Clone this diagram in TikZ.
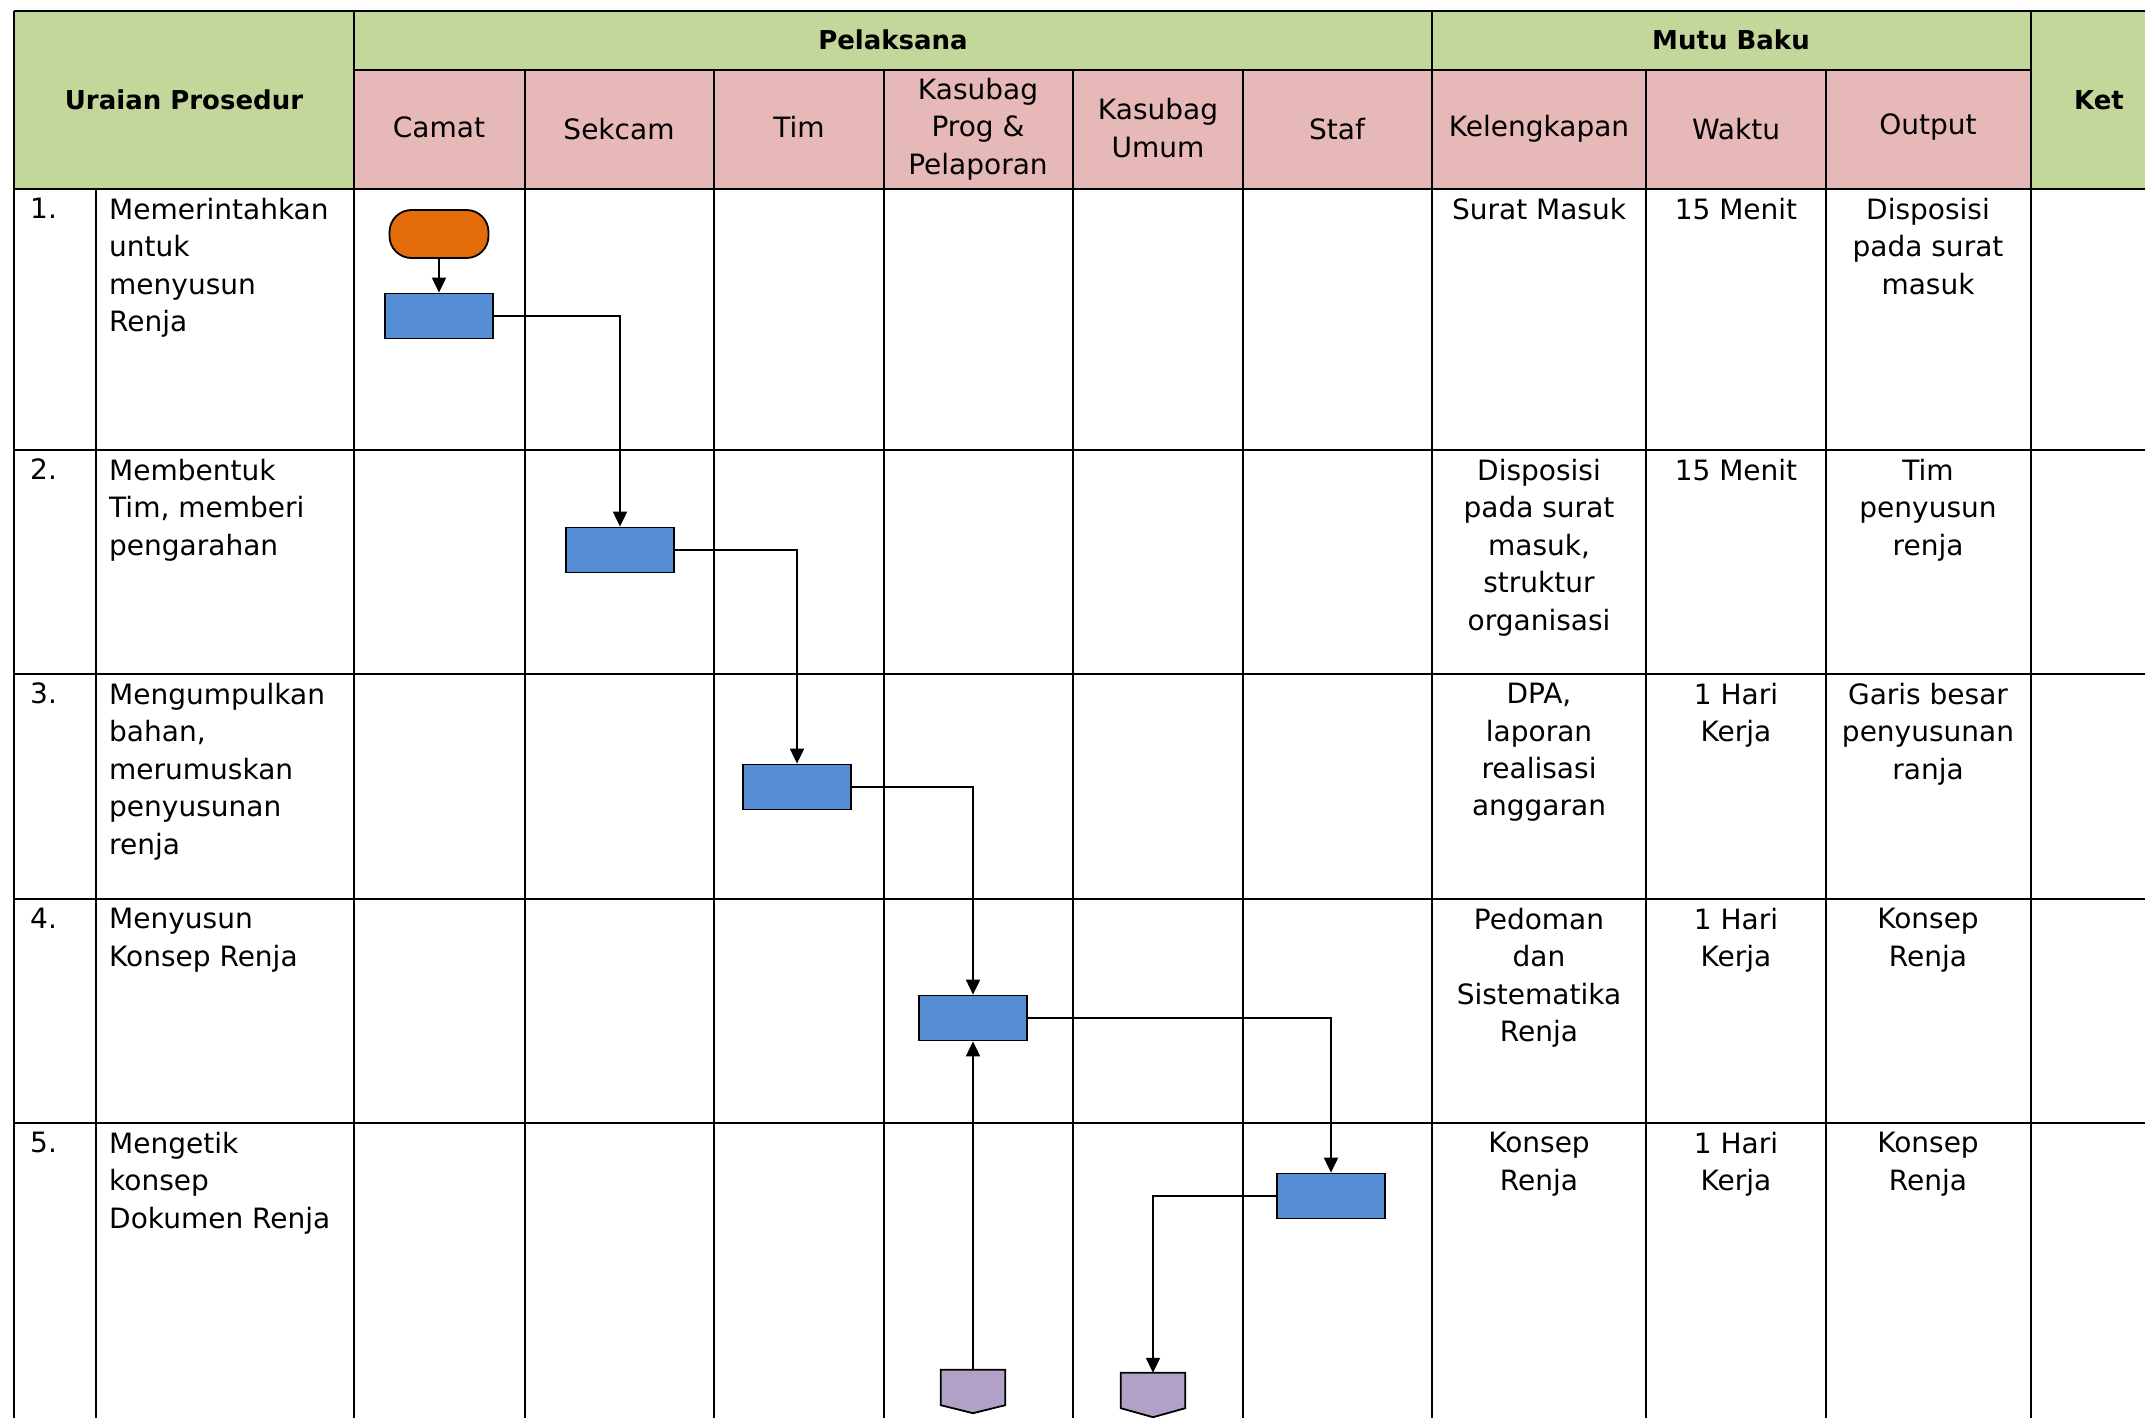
\documentclass[tikz,border=0pt]{standalone}
\usepackage{fontspec}
\setmainfont{DejaVu Sans}
\usetikzlibrary{calc,arrows.meta}
\definecolor{hdrgreen}{RGB}{196,215,155}
\definecolor{hdrpink}{RGB}{230,184,183}
\definecolor{termorange}{RGB}{227,108,10}
\definecolor{boxblue}{RGB}{85,142,213}
\definecolor{conpurple}{RGB}{178,161,199}
\begin{document}
\begin{tikzpicture}[x=1pt,y=-1pt,
  grid/.style={line width=1.2pt,draw=black},
  txt/.style={inner sep=0pt,font=\fontsize{28}{37.4}\selectfont},
  lefttxt/.style={txt,anchor=north west,align=left},
  midtxt/.style={txt,anchor=north,align=center},
  hdrtxt/.style={inner sep=0pt,font=\fontsize{28}{37.4}\selectfont,align=center,anchor=center},
  boldhdr/.style={inner sep=0pt,font=\fontsize{26}{34}\selectfont\bfseries,align=center,anchor=center},
  termshape/.style={draw=black,line width=1.8pt,fill=termorange,rounded corners=22pt,minimum width=99pt,minimum height=48pt,inner sep=0pt},
  procbox/.style={draw=black,line width=1.8pt,fill=boxblue,minimum width=108pt,minimum height=45pt,inner sep=0pt},
  pentbody/.style={minimum width=64pt,minimum height=35pt,inner sep=0pt},
  pentdraw/.style={draw=black,line width=1.8pt,fill=conpurple},
  flow/.style={line width=2pt,-{Triangle[length=15pt,width=14pt]}}
]
\useasboundingbox (0,0) rectangle (2145,1418);
\clip (0,0) rectangle (2145,1418);
% backgrounds
\fill[hdrgreen] (14,11) rectangle (2180,189);
\fill[hdrpink] (354,70) rectangle (2031,189);
% horizontal lines
\draw[grid,line width=1.8pt] (14,11) -- (2180,11);
\draw[grid,line width=1.6pt] (354,70) -- (2031,70);
\draw[grid,line width=1.6pt] (14,189) -- (2180,189);
\foreach \yy in {450,674,899,1123} \draw[grid] (14,\yy) -- (2180,\yy);
% vertical lines
\foreach \xx in {14,354,1432,2031} \draw[grid] (\xx,11) -- (\xx,1430);
\foreach \xx in {525,714,884,1073,1243,1646,1826} \draw[grid] (\xx,70) -- (\xx,1430);
\draw[grid] (96,189) -- (96,1430);
% header text
\node[boldhdr] (hUraian) at (184,100) {Uraian Prosedur};
\node[boldhdr] (hPel) at (893,40) {Pelaksana};
\node[boldhdr] (hMutu) at (1731,40) {Mutu Baku};
\node[boldhdr] (hKet) at (2099,100) {Ket};
\node[hdrtxt] (hCamat) at (439,127) {Camat};
\node[hdrtxt] (hSekcam) at (619,129) {Sekcam};
\node[hdrtxt] (hTim) at (799,127) {Tim};
\node[hdrtxt] (hKprog) at (978,129) {Kasubag\\Prog \&\\Pelaporan};
\node[hdrtxt] (hKumum) at (1158,128) {Kasubag\\Umum};
\node[hdrtxt] (hStaf) at (1337,129) {Staf};
\node[hdrtxt] (hKel) at (1539,129) {Kelengkapan};
\node[hdrtxt] (hWaktu) at (1736,129) {Waktu};
\node[hdrtxt] (hOut) at (1928,127) {Output};
% row 1
\node[lefttxt] (n1) at (30,198) {1.};
\node[lefttxt] (u1) at (109,198) {Memerintahkan\\untuk\\menyusun\\Renja};
\node[midtxt] (k1) at (1539,198) {Surat Masuk};
\node[midtxt] (w1) at (1736,198) {15 Menit};
\node[midtxt] (o1) at (1928,198) {Disposisi\\pada surat\\masuk};
% row 2
\node[lefttxt] (n2) at (30,459) {2.};
\node[lefttxt] (u2) at (109,459) {Membentuk\\Tim, memberi\\pengarahan};
\node[midtxt] (k2) at (1539,459) {Disposisi\\pada surat\\masuk,\\struktur\\organisasi};
\node[midtxt] (w2) at (1736,459) {15 Menit};
\node[midtxt] (o2) at (1928,459) {Tim\\penyusun\\renja};
% row 3
\node[lefttxt] (n3) at (30,683) {3.};
\node[lefttxt] (u3) at (109,683) {Mengumpulkan\\bahan,\\merumuskan\\penyusunan\\renja};
\node[midtxt] (k3) at (1539,683) {DPA,\\laporan\\realisasi\\anggaran};
\node[midtxt] (w3) at (1736,683) {1 Hari\\Kerja};
\node[midtxt] (o3) at (1928,683) {Garis besar\\penyusunan\\ranja};
% row 4
\node[lefttxt] (n4) at (30,908) {4.};
\node[lefttxt] (u4) at (109,908) {Menyusun\\Konsep Renja};
\node[midtxt] (k4) at (1539,908) {Pedoman\\dan\\Sistematika\\Renja};
\node[midtxt] (w4) at (1736,908) {1 Hari\\Kerja};
\node[midtxt] (o4) at (1928,908) {Konsep\\Renja};
% row 5
\node[lefttxt] (n5) at (30,1132) {5.};
\node[lefttxt] (u5) at (109,1132) {Mengetik\\konsep\\Dokumen Renja};
\node[midtxt] (k5) at (1539,1132) {Konsep\\Renja};
\node[midtxt] (w5) at (1736,1132) {1 Hari\\Kerja};
\node[midtxt] (o5) at (1928,1132) {Konsep\\Renja};
% flow shapes
\node[termshape] (term) at (439,234) {};
\node[procbox] (b1) at (439,316) {};
\node[procbox] (b2) at (620,550) {};
\node[procbox] (b3) at (797,787) {};
\node[procbox] (b4) at (973,1018) {};
\node[procbox] (b5) at (1331,1196) {};
\node[pentbody] (p1) at (973,1387.5) {};
\node[pentbody] (p2) at (1153,1390.5) {};
\draw[pentdraw] (p1.north west) -- (p1.north east) -- (p1.south east) -- ($(p1.south)+(0,8)$) -- (p1.south west) -- cycle;
\draw[pentdraw] (p2.north west) -- (p2.north east) -- (p2.south east) -- ($(p2.south)+(0,9)$) -- (p2.south west) -- cycle;
% connectors
\draw[flow] (term.south) -- (b1.north);
\draw[flow] (b1.east) -| (b2.north);
\draw[flow] (b2.east) -| (b3.north);
\draw[flow] (b3.east) -| (b4.north);
\draw[flow] (b4.east) -| (b5.north);
\draw[flow] (b5.west) -| (p2.north);
\draw[flow] (p1.north) -- (b4.south);
\end{tikzpicture}
\end{document}
